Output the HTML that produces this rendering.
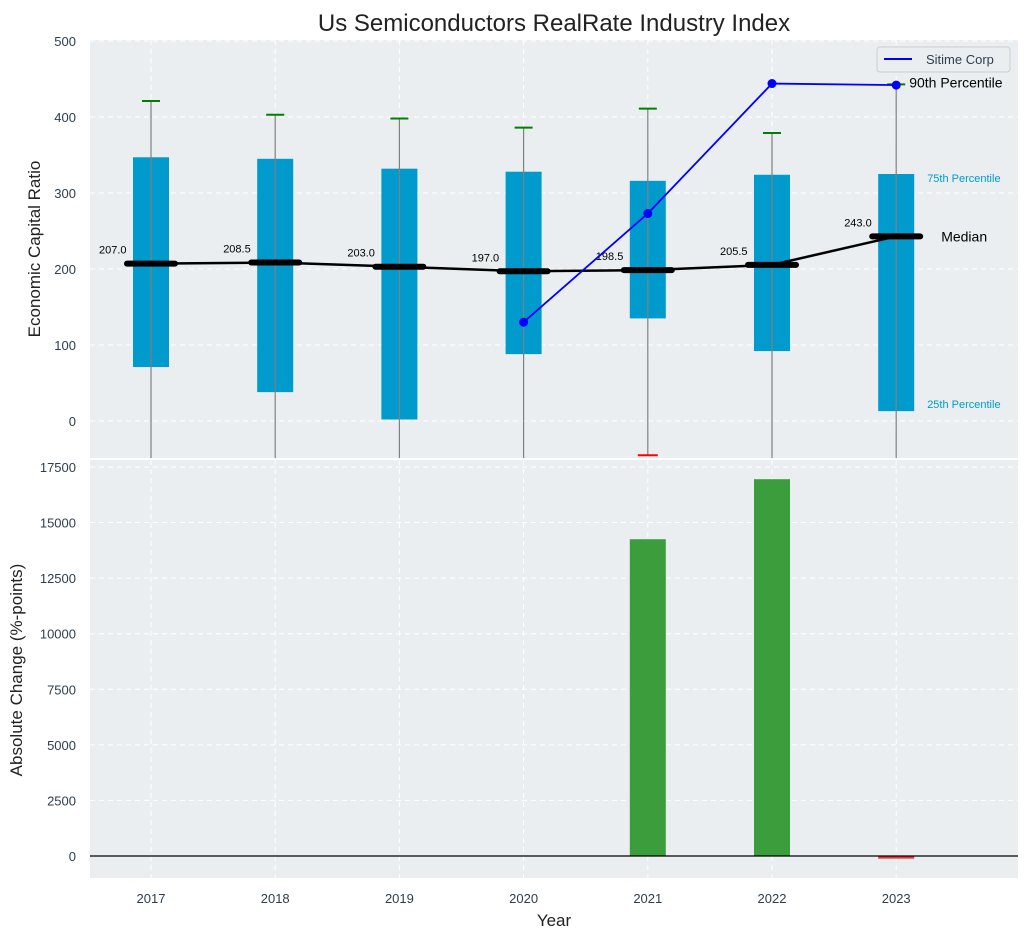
<!DOCTYPE html>
<html><head><meta charset="utf-8"><style>
body{margin:0;background:#fff;font-family:"Liberation Sans",sans-serif}
svg text{font-family:"Liberation Sans",sans-serif}
</style></head><body>
<svg id="c" width="1029" height="940" xmlns="http://www.w3.org/2000/svg"></svg>
<script>
const years=["2017","2018","2019","2020","2021","2022","2023"];
const medians=[207,208.5,203,197,198.5,205.5,243];
const q1=[71,38,2,88,135,92,13];
const q3=[347,345,332,328,316,324,325];
const whiskHi=[421,403,398,386,411,379,443];
const whiskLo=[-80,-80,-80,-80,-45,-80,-80];
const sitimeYears=[3,4,5,6];
const sitimeVals=[130,273,444,442];
const changes=[0,0,0,0,14250,16950,-120];
const topTicks=[0,100,200,300,400,500];
const botTicks=[0,2500,5000,7500,10000,12500,15000,17500];

const NS="http://www.w3.org/2000/svg";
const svg=document.getElementById('c');
function el(t,a,txt){const e=document.createElementNS(NS,t);for(const k in a)e.setAttribute(k,a[k]);if(txt!==undefined)e.textContent=txt;svg.appendChild(e);return e;}
const L=90,R=1018;
const x=i=>151+i*124.2;
const T0=40,T1=458;
const yT=v=>421-0.76*v;
const B0=460,B1=878;
const yB=v=>856-v*0.02223;

let e;
e=el('rect',{x:L,y:T0,width:R-L,height:T1-T0,fill:'#eaeef0'});

e=el('rect',{x:L,y:B0,width:R-L,height:B1-B0,fill:'#eaeef0'});


topTicks.forEach(v=>{el('line',{x1:L,x2:R,y1:yT(v),y2:yT(v),stroke:'#fff','stroke-dasharray':'5,4','stroke-width':1});
 e=el('text',{x:76,y:yT(v)+5,'text-anchor':'end','font-size':13,fill:'#2d3e50'},v);
 });
botTicks.forEach(v=>{el('line',{x1:L,x2:R,y1:yB(v),y2:yB(v),stroke:'#fff','stroke-dasharray':'5,4','stroke-width':1});
 e=el('text',{x:76,y:yB(v)+5,'text-anchor':'end','font-size':13,fill:'#2d3e50'},v);
 });
years.forEach((yr,i)=>{
 el('line',{x1:x(i),x2:x(i),y1:T0,y2:T1,stroke:'#fff','stroke-dasharray':'5,4'});
 el('line',{x1:x(i),x2:x(i),y1:B0,y2:B1,stroke:'#fff','stroke-dasharray':'5,4'});
 e=el('text',{x:x(i),y:903,'text-anchor':'middle','font-size':13,fill:'#2d3e50'},yr);
 
});

years.forEach((yr,i)=>{
 const top=Math.max(yT(whiskHi[i]),T0), bot=Math.min(yT(whiskLo[i]),T1);
 e=el('rect',{x:x(i)-18,y:yT(q3[i]),width:36,height:yT(q1[i])-yT(q3[i]),fill:'#009acd'});
 
 e=el('line',{x1:x(i),x2:x(i),y1:top,y2:bot,stroke:'#808080','stroke-width':1.2});
 
 e=el('line',{x1:x(i)-9,x2:x(i)+9,y1:yT(whiskHi[i]),y2:yT(whiskHi[i]),stroke:'green','stroke-width':2});
 
 if(yT(whiskLo[i])<=T1){e=el('line',{x1:x(i)-10,x2:x(i)+10,y1:yT(whiskLo[i]),y2:yT(whiskLo[i]),stroke:'red','stroke-width':2});
 }
});
e=el('polyline',{points:medians.map((m,i)=>x(i)+','+yT(m)).join(' '),fill:'none',stroke:'#000','stroke-width':2.5});

medians.forEach((m,i)=>{
 e=el('line',{x1:x(i)-24,x2:x(i)+24,y1:yT(m),y2:yT(m),stroke:'#000','stroke-width':6,'stroke-linecap':'round'});
 
 e=el('text',{x:x(i)-52,y:yT(m)-10,'font-size':11,fill:'#000'},m.toFixed(1));
 
});
e=el('polyline',{points:sitimeYears.map((yi,k)=>x(yi)+','+yT(sitimeVals[k])).join(' '),fill:'none',stroke:'blue','stroke-width':1.8});

sitimeYears.forEach((yi,k)=>{e=el('circle',{cx:x(yi),cy:yT(sitimeVals[k]),r:4.5,fill:'blue'});
 });
const ax=x(6);
e=el('rect',{x:877,y:47,width:133,height:25,fill:'#eaeef0',stroke:'#ccc',rx:3});
el('line',{x1:884,x2:912,y1:59,y2:59,stroke:'blue','stroke-width':2});
e=el('text',{x:926,y:64,'font-size':13,fill:'#2d3e50'},'Sitime Corp');
e=el('text',{x:ax+13,y:yT(443)+3,'font-size':14,fill:'#000'},'90th Percentile');
e=el('text',{x:ax+45,y:yT(243)+5,'font-size':14,fill:'#000'},'Median');
e=el('text',{x:ax+31,y:yT(q3[6])+8,'font-size':11,fill:'#009acd'},'75th Percentile');
e=el('text',{x:ax+31,y:yT(q1[6])-3,'font-size':11,fill:'#009acd'},'25th Percentile');

changes.forEach((v,i)=>{ if(v===0)return;
 const y0=yB(0),y1=yB(v);
 e=el('rect',{x:x(i)-18,y:Math.min(y0,y1),width:36,height:Math.max(Math.abs(y1-y0),2),fill:v>0?'#3c9d3c':'#e53935'});
 
});
el('line',{x1:L,x2:R,y1:yB(0),y2:yB(0),stroke:'#000','stroke-width':1.2});

e=el('text',{x:554,y:31,'text-anchor':'middle','font-size':24,fill:'#222'},'Us Semiconductors RealRate Industry Index');
e=el('text',{x:0,y:0,'text-anchor':'middle','font-size':17,fill:'#222',transform:'translate(40,249) rotate(-90)'},'Economic Capital Ratio');
e=el('text',{x:0,y:0,'text-anchor':'middle','font-size':17,fill:'#222',transform:'translate(22,670) rotate(-90)'},'Absolute Change (%-points)');
e=el('text',{x:554,y:926,'text-anchor':'middle','font-size':17,fill:'#222'},'Year');
</script>
</body></html>
